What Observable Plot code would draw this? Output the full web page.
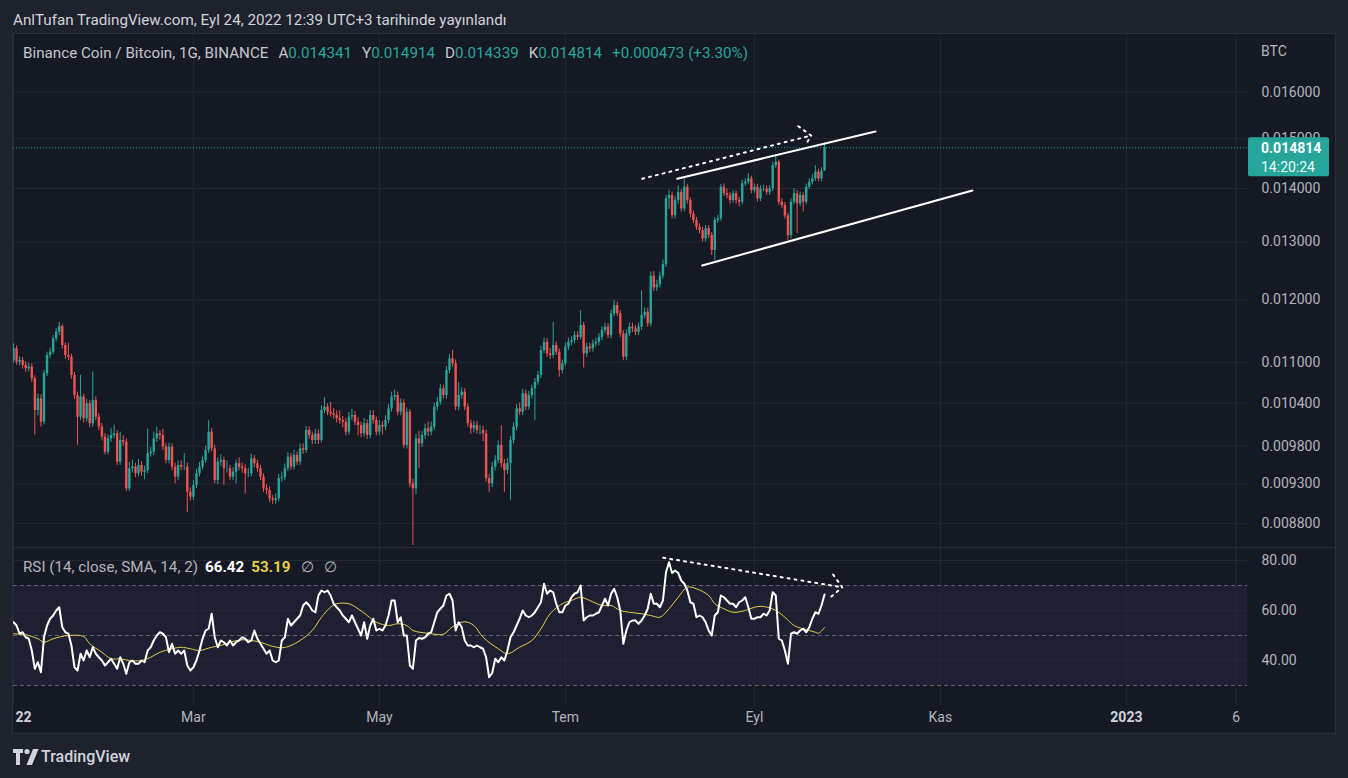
<!DOCTYPE html>
<html><head><meta charset="utf-8">
<script src="https://cdn.jsdelivr.net/npm/d3@7"></script>
<script src="https://cdn.jsdelivr.net/npm/@observablehq/plot@0.6"></script>
<style>
html,body{margin:0;padding:0;background:#1e222d;}
#root{position:relative;width:1348px;height:778px;overflow:hidden;font-family:Roboto,"Liberation Sans",sans-serif;}
#frame{position:absolute;left:12px;top:33px;width:1322px;height:699px;background:#151924;border:1px solid #2a2e39;}
.abs{position:absolute;white-space:nowrap;}
#header{left:13px;top:11px;font-size:15.2px;color:#d1d4dc;line-height:18px;}
#legend{left:23px;top:45px;font-size:15.2px;line-height:16px;color:#c3c6ce;}
#legend .v{color:#26a69a;}
#legend .k{margin-left:10px;}
#rsilegend{left:23px;top:559px;font-size:15.2px;line-height:16px;color:#b2b5be;}
#btc{left:1261px;top:43px;font-size:14px;color:#b2b5be;line-height:16px;}
#sep{left:13px;top:547px;width:1322px;height:1px;background:#2a2e39;}
#logo{left:13px;top:748px;}
#logotext{left:41px;top:748px;font-size:16px;color:#d1d4dc;font-weight:500;line-height:18px;}
svg.plotsvg{position:absolute;left:13px;}
</style></head>
<body><div id="root">
<div id="header" class="abs">AnlTufan TradingView.com, Eyl 24, 2022 12:39 UTC+3 tarihinde yayınlandı</div>
<div id="frame"></div>
<div id="legend" class="abs">Binance Coin / Bitcoin, 1G, BINANCE<span class="k">A</span><span class="v">0.014341</span><span class="k">Y</span><span class="v">0.014914</span><span class="k">D</span><span class="v">0.014339</span><span class="k">K</span><span class="v">0.014814</span><span class="k v">+0.000473 (+3.30%)</span></div>
<div id="btc" class="abs">BTC</div>
<div id="rsilegend" class="abs">RSI (14, close, SMA, 14, 2)<span style="margin-left:7px;color:#ffffff;font-weight:bold">66.42</span><span style="margin-left:7px;color:#e6cf4a;font-weight:bold">53.19</span><span style="margin-left:10px">∅</span><span style="margin-left:10px">∅</span></div>
<svg id="logo" class="abs" width="26" height="18" viewBox="0 0 26 18"><path d="M0 1h10v4H7v12H3V5H0z" fill="#d1d4dc"/><circle cx="14" cy="3.5" r="2.6" fill="#d1d4dc"/><path d="M20 1h5.5l-6.5 16h-5.5z" fill="#d1d4dc"/></svg>
<div id="logotext" class="abs">TradingView</div>
</div>
<script>
// ---- Data (prices in units of 1e-6 BTC), daily candles from 2022-01-01 ----
const firstOpen = 11032;
const closeU = [
11213,11007,11032,10957,10907,10931,10757,10294,10463,10129,
10832,11109,11160,11370,11473,11564,11264,11109,11083,10806,
10510,10200,10486,10177,10390,10107,10438,10200,10060,9921,
9717,9898,9944,9967,9584,9875,9852,9236,9497,9518,
9431,9540,9452,9474,9695,9717,9898,9967,9944,9785,
9606,9785,9518,9387,9540,9518,9518,9193,9130,9279,
9431,9518,9606,9740,9990,9763,9343,9584,9606,9497,
9497,9387,9452,9563,9518,9497,9431,9431,9628,9563,
9497,9387,9236,9215,9109,9088,9109,9366,9380,9497,
9651,9518,9673,9584,9763,9740,10013,9944,9875,9967,
9875,10294,10343,10270,10248,10224,10177,10153,10129,9990,
10200,10224,10129,10084,9967,10107,9944,10224,10153,9990,
10084,10060,10153,10318,10486,10510,10270,10400,9808,10270,
9300,9236,9898,9830,9944,10037,9990,10060,10343,10414,
10608,10510,10881,11057,10983,10343,10510,10559,10343,10107,
10037,10084,10013,10013,9967,9366,9300,9518,9606,9808,
9563,9474,9563,9875,10060,10318,10270,10535,10343,10510,
10608,10706,10806,11186,11314,11134,11109,11264,11160,10881,
10983,11238,11314,11342,11419,11393,11580,11134,11238,11213,
11288,11314,11393,11500,11554,11419,11770,11905,11770,11446,
11083,11446,11554,11527,11473,11554,11742,11796,11607,12400,
12200,12250,12400,12600,13800,13865,13480,13769,13925,13611,
14025,13769,13511,13393,13270,13209,13057,13240,13118,12848,
13393,13424,14025,13900,13865,13769,13900,13769,13737,14092,
14124,14188,13961,14025,13801,13994,13994,13925,13994,14449,
14518,13737,13674,13480,13118,13737,13900,13705,13865,13737,
14025,14124,14188,14321,14188,14341,14814];
const highU = [
11290,11260,11090,11080,11010,10990,10980,10800,10530,10520,
10880,11160,11220,11420,11530,11630,11600,11300,11300,11130,
10850,10560,10810,10530,10450,10440,10860,10490,10250,10110,
9970,9950,10040,10090,10010,9990,9940,9900,9580,9610,
9570,9620,9590,9530,10030,9780,9990,10060,10010,10030,
9830,9840,9830,9570,9600,9600,9700,9570,9250,9340,
9490,9580,9660,9800,10150,10040,9810,9640,9680,9650,
9600,9540,9510,9610,9640,9570,9550,9500,9690,9670,
9610,9540,9430,9290,9260,9150,9170,9420,9450,9560,
9710,9700,9740,9720,9830,9830,10070,10060,9990,10030,
10020,10360,10480,10390,10410,10320,10290,10290,10210,10180,
10270,10310,10280,10190,10130,10180,10160,10290,10290,10200,
10150,10140,10220,10380,10560,10590,10560,10460,10450,10330,
10310,9360,9960,10000,10000,10100,10130,10130,10400,10480,
10670,10660,10940,11120,11190,11040,10700,10620,10610,10390,
10160,10140,10140,10080,10070,10020,9420,9580,9670,9870,
10080,9620,9630,9930,10120,10380,10400,10600,10590,10570,
10660,10760,10870,11250,11380,11370,11220,11630,11320,11210,
11040,11300,11380,11400,11480,11480,11820,11630,11300,11300,
11350,11380,11450,11560,11620,11610,11830,11990,11960,11820,
11500,11510,11620,11620,11580,11620,12150,11870,11860,12470,
12480,12330,12470,12680,13870,13960,13930,13840,14050,13980,
14190,14080,13820,13570,13450,13330,13270,13300,13300,13170,
13450,13490,14080,14090,13990,13920,13960,13950,13830,14160,
14190,14290,14240,14090,14080,14050,14060,14050,14060,14520,
14660,14560,13800,13730,13530,13800,14000,13960,13930,13920,
14090,14190,14270,14450,14380,14410,14914];
const lowU = [
10990,10960,10950,10900,10850,10860,10700,9950,10220,10060,
10090,10790,11060,11120,11320,11420,11210,11050,11030,10750,
10450,9810,10150,10120,10130,10050,10060,10150,10010,9870,
9680,9680,9850,9900,9540,9540,9800,9200,9200,9440,
9380,9390,9400,9350,9430,9650,9670,9850,9880,9740,
9560,9560,9470,9300,9340,9470,9470,8940,9080,9090,
9240,9390,9480,9570,9700,9720,9300,9290,9530,9280,
9440,9340,9340,9300,9470,9440,9170,9380,9390,9510,
9450,9340,9190,9160,9060,9040,9040,9070,9320,9340,
9460,9470,9480,9540,9540,9690,9700,9890,9820,9820,
9820,9840,10250,10220,10200,10170,10120,10100,10050,9940,
9950,10150,10080,9940,9910,9920,9890,9900,10100,9940,
9940,9950,10010,10110,10270,10430,10220,10220,9760,9760,
9250,8540,9160,9500,9780,9890,9930,9940,10010,10290,
10370,10460,10460,10830,10930,10290,10290,10460,10290,10060,
9960,9980,9960,9950,9860,9320,9190,9250,9470,9560,
9510,9190,9420,9090,9830,10010,10220,10220,10290,10300,
10460,10150,10660,10760,11140,11080,11050,11060,11110,10780,
10830,10940,11190,11260,11290,11340,11350,10920,11080,11160,
11160,11240,11260,11340,11450,11370,11370,11720,11720,11390,
11030,11030,11400,11470,11420,11420,11500,11690,11550,11560,
12140,12140,12200,12350,12550,13600,13420,13420,13700,13550,
13560,13700,13450,13330,13210,13150,13000,13000,13060,12760,
12670,13340,13380,13850,13800,13700,13720,13700,13650,13690,
14040,14070,13900,13910,13740,13750,13940,13870,13870,13940,
14400,13680,13620,13420,13030,13060,13690,13150,13650,13550,
13690,13980,14070,14140,14130,14130,14339];

// RSI(14) per day
const rsiValues = [
55.3,54,50.7,51.3,49.3,48.7,44,36.7,39.3,35.3,
49.3,54,56.7,58,60,61.3,53.3,51.3,50.7,46,
37.3,36,42.7,40,44,41.3,45.3,42.7,41.3,40,
38,39.3,40.7,38.7,36.7,41.3,38.7,34.7,39.3,40,
38.7,38.7,40,39.3,44,45.3,48,50,51.3,50.7,
49.3,43.3,46.7,42.7,44,42.7,44,38,36,37.3,
40,44,48.7,52,52.7,58.7,49.3,45.3,48,47.3,
46,48,46,47.3,48,49.3,48.7,47.3,48,52,
48.7,46.7,44.7,42.7,44,40,39.3,40,48,49.3,
56.7,54,55.3,56.7,58,62,63.3,62,60,59.3,
66,68,67.3,68,66,62.7,61.3,60,58,56.7,
55.3,58,55.3,52.7,50,55.3,48.7,54,56.7,52,
52.7,52,54,58,64,64,55.3,57.3,50,50,
38,36.7,48,49,48.7,49.3,50.7,51.3,55.3,59.3,
60.7,62,66,66.7,64,52,55.3,53.3,48,46,
46,45.3,46,45.3,44.7,41.3,33.3,35,40.7,39.3,
41.3,40,44,49.3,51.3,54,56.7,60,58,57.3,
58,59.3,61.3,63.3,70.7,66.7,68,67.3,62.7,59.3,
59.3,62,62.7,65.3,66.7,67.3,70,56,57.3,58,
58,58.7,59.3,62,64.7,62,66.7,68.7,65.3,60,
46.7,52,55.3,56,56,54.7,56,58,60.7,66.7,
62.7,62.7,61.3,64,75.3,79.3,75,76,75,72,
70.7,68,63.3,62.7,57.3,58,57.3,55.3,52,50,
58,59.3,66,65.3,64,62.7,62.7,61.3,63.3,64,
65.3,61.3,56.7,56.7,57.3,57.3,58.7,58,60,67.3,
66,48.7,48,44,38.7,50.7,51.3,50.7,52,52.7,
51.3,53.3,56.7,59.3,58.7,62,66.42];

// SMA(14) of RSI, read at these day offsets
const smaDay = [0,4,6,8,10,13,18,23,25,29,32,35,38,42,45,48,52,55,58,61,65,68,71,75,78,81,84,88,91,94,98,101,104,106,110,113,116,119,123,126,129,131,136,141,144,148,151,154,159,162,166,170,173,176,180,183,186,189,193,196,199,202,206,209,212,215,218,221,224,228,230,233,236,240,243,246,250,253,256,259,263,264,266];
const smaVal = [50.7,50.3,49.6,48.7,47.3,48.7,50,49.6,46.7,43.3,40.7,40.7,40,40,41.3,43.3,44.7,45.3,44.7,44,45.3,46,47.3,48.3,48,47.3,46,45.1,46,48,52,57.3,61.3,62.7,62.7,60.7,58,55.3,54,54.7,54,52,50.9,50.5,53.5,55.5,54,49.3,44.7,42.7,45.3,48,52.7,58.7,62.7,64,65.3,64,62,62,60,59.3,58.7,58,57.3,60.7,65.3,69.3,68.7,66,62.7,60.7,59.3,60,61.3,61.6,60,57.3,54,52.7,51.3,50.9,53.19];

// Axis ticks
const priceTicks = [0.016, 0.015, 0.014, 0.013, 0.012, 0.011, 0.0104, 0.0098, 0.0093, 0.0088];
const rsiTicks = [80, 60, 40];
const rsiLevels = [70, 50, 30];
const timeTickDates = ["2022-01-01","2022-03-01","2022-05-01","2022-07-01","2022-09-01","2022-11-01","2023-01-01","2023-02-06"];
const timeTickLabels = ["22","Mar","May","Tem","Eyl","Kas","2023","6"];
const timeTickKind = ["edge","month","month","month","month","month","year","month"];

// User drawings: [day offset from 2022-01-01, value]
const channelUpper = [[217.68, 0.014189], [282.7, 0.015150]];
const channelLower = [[225.87, 0.012584], [314.5, 0.013961]];
const priceArrowLine = [[206.2, 0.014189], [261.6, 0.015066]];
const priceArrowHead = [[257.4, 0.015262], [261.6, 0.015066], [260.1, 0.014906]];
const rsiArrowLine = [[213.1, 81.1], [271.8, 69.3]];
const rsiArrowHead = [[268.8, 74.4], [271.8, 69.3], [267.4, 64.7]];
const countdown = "14:20:24";

// ---- Build ----
const up = "#26a69a", down = "#ef5350", grid = "#242833";
const start = Date.UTC(2022, 0, 1);
const DAY = 864e5;
const dayDate = d => new Date(start + d * DAY);
const candles = closeU.map((c, i) => ({
  date: dayDate(i),
  open: (i === 0 ? firstOpen : closeU[i - 1]) / 1e6,
  close: c / 1e6,
  high: highU[i] / 1e6,
  low: lowU[i] / 1e6
}));
const upC = candles.filter(d => d.close >= d.open);
const downC = candles.filter(d => d.close < d.open);
const lastClose = candles[candles.length - 1].close;
const rsi = rsiValues.map((v, i) => ({date: dayDate(i), v}));
const sma = smaDay.map((d, i) => ({date: dayDate(d), v: smaVal[i]}));
const tickDates = timeTickDates.map(s => new Date(s));
const labelOf = new Map(tickDates.map((d, i) => [+d, timeTickLabels[i]]));
const ticksOf = k => tickDates.filter((d, i) => timeTickKind[i] === k);
const xDomain = [new Date(start), new Date(start + 404.72 * DAY)];
const px = d => dayDate(d[0]), py = d => d[1];
const baseStyle = {background: "transparent", color: "#b2b5be", fontSize: "14px", fontFamily: "Roboto, 'Liberation Sans', sans-serif"};

const priceChart = Plot.plot({
  width: 1322, height: 514, marginLeft: 0, marginRight: 88, marginTop: 0, marginBottom: 0,
  style: baseStyle,
  x: {type: "utc", domain: xDomain, axis: null},
  y: {type: "log", domain: [0.0085031, 0.017329], axis: null},
  marks: [
    Plot.gridX(tickDates, {stroke: grid, strokeOpacity: 1}),
    Plot.gridY(priceTicks, {stroke: grid, strokeOpacity: 1}),
    Plot.axisY(priceTicks, {anchor: "right", tickSize: 0, tickPadding: 14, tickFormat: d => d.toFixed(6), fill: "#b2b5be", label: null}),
    Plot.ruleY([lastClose], {stroke: up, strokeDasharray: "1,2", strokeWidth: 1}),
    Plot.ruleX(upC, {x: "date", y1: "low", y2: "high", stroke: up, strokeWidth: 1}),
    Plot.ruleX(downC, {x: "date", y1: "low", y2: "high", stroke: down, strokeWidth: 1}),
    Plot.ruleX(upC, {x: "date", y1: "open", y2: "close", stroke: up, strokeWidth: 2.4}),
    Plot.ruleX(downC, {x: "date", y1: "open", y2: "close", stroke: down, strokeWidth: 2.4}),
    Plot.line(channelUpper, {x: px, y: py, stroke: "#ffffff", strokeWidth: 2}),
    Plot.line(channelLower, {x: px, y: py, stroke: "#ffffff", strokeWidth: 2}),
    Plot.line(priceArrowLine, {x: px, y: py, stroke: "#ffffff", strokeWidth: 2, strokeDasharray: "2,5"}),
    Plot.line(priceArrowHead, {x: px, y: py, stroke: "#ffffff", strokeWidth: 2, strokeDasharray: "2,5"})
  ]
});
priceChart.classList.add("plotsvg");
priceChart.style.top = "34px";

// last price label on the axis
const yS = priceChart.scale("y");
const yl = yS.apply(lastClose);
const g = d3.select(priceChart).append("g").attr("text-anchor", "start");
g.append("rect").attr("x", 1235).attr("y", yl - 10).attr("width", 81).attr("height", 39).attr("rx", 2).attr("fill", up);
g.append("text").attr("x", 1248).attr("y", yl + 1).attr("dy", "0.35em").attr("fill", "#ffffff").attr("font-weight", "bold").text(lastClose.toFixed(6));
g.append("text").attr("x", 1248).attr("y", yl + 20).attr("dy", "0.35em").attr("fill", "#eef7f6").text(countdown);

const rsiChart = Plot.plot({
  width: 1322, height: 185, marginLeft: 0, marginRight: 88, marginTop: 0, marginBottom: 28,
  style: baseStyle,
  x: {type: "utc", domain: xDomain, axis: null},
  y: {domain: [22, 84.8], axis: null},
  marks: [
    Plot.rect([{y1: 30, y2: 70}], {y1: "y1", y2: "y2", fill: "#7e57c2", fillOpacity: 0.1}),
    Plot.gridX(tickDates, {stroke: grid, strokeOpacity: 1}),
    Plot.gridY(rsiTicks, {stroke: grid, strokeOpacity: 1}),
    Plot.ruleY(rsiLevels, {stroke: "#787b86", strokeOpacity: 0.75, strokeDasharray: "4,3"}),
    Plot.line(sma, {x: "date", y: "v", stroke: "#e6cf4a", strokeWidth: 1, curve: "catmull-rom"}),
    Plot.line(rsi, {x: "date", y: "v", stroke: "#ffffff", strokeWidth: 2}),
    Plot.line(rsiArrowLine, {x: px, y: py, stroke: "#ffffff", strokeWidth: 2, strokeDasharray: "2,5"}),
    Plot.line(rsiArrowHead, {x: px, y: py, stroke: "#ffffff", strokeWidth: 2, strokeDasharray: "2,5"}),
    Plot.axisY(rsiTicks, {anchor: "right", tickSize: 0, tickPadding: 14, tickFormat: d => d.toFixed(2), fill: "#b2b5be", label: null}),
    Plot.axisX(ticksOf("month"), {anchor: "bottom", tickSize: 0, tickPadding: 7, tickFormat: d => labelOf.get(+d), fill: "#b2b5be", label: null}),
    Plot.axisX(ticksOf("year"), {anchor: "bottom", tickSize: 0, tickPadding: 7, tickFormat: d => labelOf.get(+d), fill: "#d1d4dc", fontWeight: "bold", label: null}),
    Plot.axisX(ticksOf("edge"), {anchor: "bottom", tickSize: 0, tickPadding: 7, tickFormat: d => labelOf.get(+d), fill: "#d1d4dc", fontWeight: "bold", label: null, dx: 10})
  ]
});
rsiChart.classList.add("plotsvg");
rsiChart.style.top = "548px";

const frame = document.getElementById("frame");
frame.after(priceChart);
priceChart.after(rsiChart);
const sep = document.createElement("div");
sep.id = "sep"; sep.className = "abs";
rsiChart.after(sep);
</script>
</body></html>
